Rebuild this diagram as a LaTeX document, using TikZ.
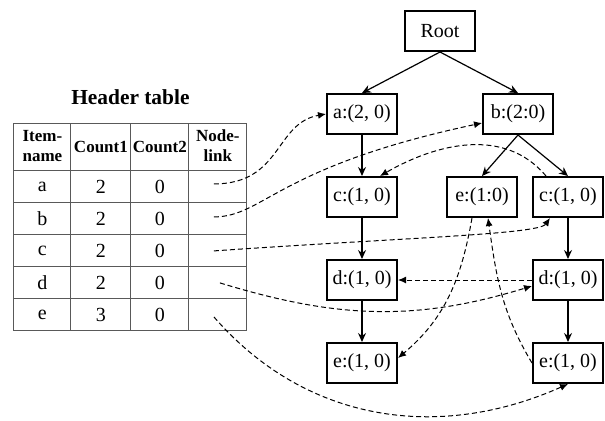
\documentclass[tikz,border=0pt]{standalone}
\usepackage{fontspec}
\setmainfont{Liberation Serif}
\usetikzlibrary{matrix,positioning}
\usetikzlibrary{arrows.meta}
\tikzset{
        itemnode/.style={align=center,inner sep=2pt},
        % FP-tree nodes
        node_item/.style={itemnode, rectangle, draw=black, line width=1pt, minimum width=35pt, minimum height=20pt, font=\fontsize{10}{12}\selectfont},
        % Header table cells
        node_cell/.style={rectangle, anchor=center, draw=black!65, line width=0.5pt, inner sep=0pt, minimum height=16pt, font=\fontsize{10}{12}\selectfont},
        % Node-links
        link_dashed/.style={-{Latex[length=4pt,width=3.5pt]}, dash pattern=on 2.5pt off 1.5pt, line width=0.5pt}
}
\newcommand{\twoline}[2]{\begin{tabular}{@{}c@{}}#1\\#2\end{tabular}}

\begin{document}
\begin{tikzpicture}[
            x=0.5pt, y=0.5pt,
            >={Stealth[length=4.5pt,width=4pt]},
            level/.style={level distance=41.5pt},
            level 1/.style={sibling distance=78pt},
            level 2/.style={sibling distance=43pt},
            edge from parent/.style={draw, ->, line width=0.6pt},
            edge from parent path={(\tikzparentnode.south) -- (\tikzchildnode.north)}
        ]
            \useasboundingbox (0,0) rectangle (605,-420);
            \node[node_item] (root) at (440,-31) {Root}
                child { node[node_item] (a) {a:(2, 0)}
                    child { node[node_item] (c1) {c:(1, 0)}
                        child { node[node_item] (d1) {d:(1, 0)}
                            child { node[node_item] (e3) {e:(1, 0)} }
                        }
                    }
                }
                child { node[node_item] (b) {b:(2:0)}
                    child[xshift=3.5pt] { node[node_item] (e1) {e:(1:0)} }
                    child[xshift=3.5pt] { node[node_item] (c2) {c:(1, 0)}
                        child { node[node_item] (d2) {d:(1, 0)}
                            child { node[node_item] (e4) {e:(1, 0)} }
                        }
                    }
                };

            % Header table
            \matrix[matrix of nodes, nodes in empty cells, anchor=north west, inner sep=0pt,
                    column sep=-0.5pt, row sep=-0.5pt,
                    nodes={node_cell},
                    column 1/.style={nodes={minimum width=28.5pt}},
                    column 2/.style={nodes={minimum width=30pt}},
                    column 3/.style={nodes={minimum width=29pt}},
                    column 4/.style={nodes={minimum width=29pt}},
                    row 1/.style={nodes={minimum height=23.5pt, font=\fontsize{8.5}{10}\selectfont\bfseries}}
                ] (hdr) at (13,-123) {
                \twoline{Item-}{name} & Count1 & Count2 & \twoline{Node-}{link} \\
                a & 2 & 0 & \\
                b & 2 & 0 & \\
                c & 2 & 0 & \\
                d & 2 & 0 & \\
                e & 3 & 0 & \\
            };
            \node[font=\fontsize{10.7}{12}\selectfont\bfseries, above=5.7pt of hdr] (title) {Header table};

            % Node-links from the table
            \draw[link_dashed] ([xshift=-2pt,yshift=1.5pt]hdr-2-4.center) to[out=0, in=190, out distance=34pt, in distance=26pt] (a.west);
            \draw[link_dashed] ([xshift=-2pt,yshift=1pt]hdr-3-4.center) to[out=0, in=192, out distance=25pt, in distance=105pt] ([yshift=-4.5pt]b.west);
            \draw[link_dashed] ([xshift=-2pt]hdr-4-4.center) to[out=4, in=235, out distance=94pt, in distance=10pt] ([xshift=-9pt]c2.south);
            \draw[link_dashed] ([xshift=1pt]hdr-5-4.center) to[out=-17, in=197] ([yshift=-3pt]d2.west);
            \draw[link_dashed] ([xshift=-2pt,yshift=-1pt]hdr-6-4.center) to[out=-49, in=204] (e4.south);

            % Node-links inside the tree
            \draw[link_dashed] ([xshift=-11pt]c2.north) to[out=130, in=30] ([xshift=9pt]c1.north);
            \draw[link_dashed] (d2.west) -- (d1.east);
            \draw[link_dashed] ([xshift=-5pt]e1.south) to[out=-100, in=40] ([yshift=2.5pt]e3.east);
            \draw[link_dashed] (e4.west) to[out=121, in=-82] ([xshift=3pt]e1.south);
        \end{tikzpicture}
\end{document}
